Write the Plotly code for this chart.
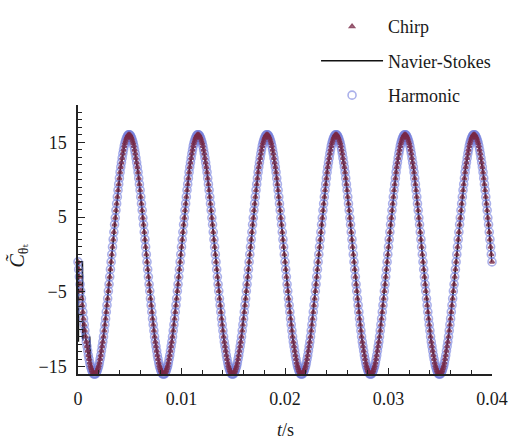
import plotly.graph_objects as go

# One period of the lift-coefficient signal, sampled 100 times per cycle (starting at a crest)
cycle_values = [
    16.0, 16.0, 15.9, 15.7, 15.5, 15.2, 14.9, 14.5, 14.0, 13.5,
    12.9, 12.3, 11.7, 11.0, 10.2, 9.4, 8.6, 7.7, 6.8, 5.9,
    4.9, 4.0, 3.0, 2.0, 1.0, 0.0, -1.0, -2.0, -3.0, -4.0,
    -4.9, -5.9, -6.8, -7.7, -8.6, -9.4, -10.2, -11.0, -11.7, -12.3,
    -12.9, -13.5, -14.0, -14.5, -14.9, -15.2, -15.5, -15.7, -15.9, -16.0,
    -16.0, -16.0, -15.9, -15.7, -15.5, -15.2, -14.9, -14.5, -14.0, -13.5,
    -12.9, -12.3, -11.7, -11.0, -10.2, -9.4, -8.6, -7.7, -6.8, -5.9,
    -4.9, -4.0, -3.0, -2.0, -1.0, 0.0, 1.0, 2.0, 3.0, 4.0,
    4.9, 5.9, 6.8, 7.7, 8.6, 9.4, 10.2, 11.0, 11.7, 12.3,
    12.9, 13.5, 14.0, 14.5, 14.9, 15.2, 15.5, 15.7, 15.9, 16.0,
]
n_samples = 601          # samples over 0 ... 0.04 s
t_end = 0.04
phase_index = 26         # cycle sample at t = 0

# Start-up transient of the Navier-Stokes solution
ns_start_t = [0.0, 0.00003, 0.00006, 0.00042, 0.00047, 0.00053, 0.0006, 0.00067,
              0.00073, 0.0008, 0.00087, 0.00093, 0.0010, 0.00107, 0.00112,
              0.00118, 0.00125, 0.00133, 0.0014]
ns_start_v = [-1.0, -11.7, -1.0, -1.0, -11.5, -9.0, -9.4, -10.2,
              -11.0, -11.7, -12.3, -12.9, -13.5, -14.2, -11.0,
              -14.6, -15.2, -15.5, -15.7]

x_tick_vals = [0, 0.01, 0.02, 0.03, 0.04]
x_tick_text = ["0", "0.01", "0.02", "0.03", "0.04"]
y_tick_vals = [-15, -5, 5, 15]
y_tick_text = ["\u221215", "\u22125", "5", "15"]

dt = t_end / (n_samples - 1)
t_samples = [i * dt for i in range(n_samples)]
c_samples = [cycle_values[(i + phase_index) % len(cycle_values)] for i in range(n_samples)]

ns_t = list(ns_start_t)
ns_v = list(ns_start_v)
for t, v in zip(t_samples, c_samples):
    if t > ns_start_t[-1]:
        ns_t.append(t)
        ns_v.append(v)

FONT = "Liberation Serif, Times New Roman, DejaVu Serif, serif"

fig = go.Figure()

fig.add_trace(go.Scatter(
    x=ns_t, y=ns_v, mode="lines", name="Navier-Stokes",
    line=dict(color="#111111", width=1.7),
    legendrank=2, legendgroup="ns",
))
fig.add_trace(go.Scatter(
    x=t_samples, y=c_samples, mode="markers", name="Harmonic",
    marker=dict(symbol="circle-open", size=8, color="rgba(115,125,220,0.6)",
                line=dict(width=1.6)),
    legendrank=3, legendgroup="harm", cliponaxis=False,
))
fig.add_trace(go.Scatter(
    x=t_samples, y=c_samples, mode="markers", name="Chirp",
    marker=dict(symbol="triangle-up-open", size=4, color="rgba(120,40,70,0.8)",
                line=dict(width=1.8)),
    legendrank=1, legendgroup="chirp", cliponaxis=False,
))

fig.update_layout(
    width=512, height=445,
    margin=dict(l=78, r=20, t=105, b=71, autoexpand=False),
    paper_bgcolor="white", plot_bgcolor="white",
    font=dict(family=FONT, size=18, color="#1a1a1a"),
    showlegend=True,
    legend=dict(
        x=0.575, y=1.36, xanchor="left", yanchor="top",
        bgcolor="rgba(0,0,0,0)", font=dict(family=FONT, size=18),
        tracegroupgap=8, itemwidth=62,
    ),
    xaxis=dict(
        range=[0, t_end], showgrid=False, zeroline=False,
        showline=True, linecolor="#222", linewidth=1.5,
        tickvals=x_tick_vals, ticktext=x_tick_text,
        ticks="inside", ticklen=6, tickwidth=1.2, tickcolor="#222",
        minor=dict(dtick=0.002, tick0=0, ticks="inside", ticklen=4, tickcolor="#222"),
        tickfont=dict(family=FONT, size=18), ticklabelstandoff=8,
    ),
    yaxis=dict(
        range=[-16, 20], showgrid=False, zeroline=False,
        showline=True, linecolor="#222", linewidth=1.5,
        tickvals=y_tick_vals, ticktext=y_tick_text,
        ticks="inside", ticklen=7, tickwidth=1.2, tickcolor="#222",
        minor=dict(dtick=1, tick0=0, ticks="inside", ticklen=4, tickcolor="#222"),
        tickfont=dict(family=FONT, size=18), ticklabelstandoff=6,
    ),
    annotations=[
        dict(text="<i>t</i>/s", xref="paper", yref="paper", x=0.5, y=-0.208,
             xanchor="center", yanchor="middle", showarrow=False,
             font=dict(family=FONT, size=18)),
        dict(text="<i>C\u0303</i><sub>\u03b8\u209c</sub>", xref="paper", yref="paper",
             x=-0.145, y=0.44, xanchor="center", yanchor="middle", showarrow=False,
             textangle=-90, font=dict(family=FONT, size=20)),
    ],
)

fig.write_html("out.html")
